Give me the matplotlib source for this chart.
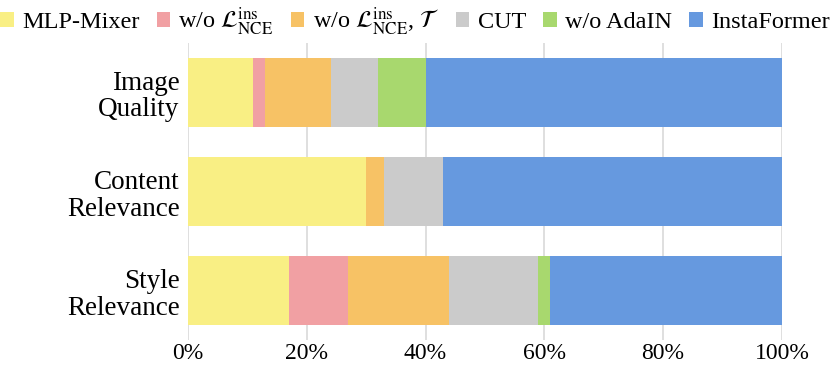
import matplotlib
matplotlib.use("Agg")
import matplotlib.pyplot as plt
import numpy as np

plt.rcParams['font.family'] = ['Liberation Serif', 'DejaVu Serif']
plt.rcParams['mathtext.fontset'] = 'stix'

# data (percent)
categories = ["Image\nQuality", "Content\nRelevance", "Style\nRelevance"]
series_names = [
    "MLP-Mixer",
    r"w/o $\mathcal{L}_{\mathrm{NCE}}^{\mathrm{ins}}$",
    r"w/o $\mathcal{L}_{\mathrm{NCE}}^{\mathrm{ins}}$, $\mathcal{T}$",
    "CUT",
    "w/o AdaIN",
    "InstaFormer",
]
mlp_mixer = [11, 30, 17]
wo_lnce = [2, 0, 10]
wo_lnce_t = [11, 3, 17]
cut = [8, 10, 15]
wo_adain = [8, 0, 2]
instaformer = [60, 57, 39]
series = [mlp_mixer, wo_lnce, wo_lnce_t, cut, wo_adain, instaformer]
colors = ["#F9EF84", "#F1A0A3", "#F7C265", "#CBCBCB", "#A8D86E", "#6699DF"]

fig = plt.figure(figsize=(8.3, 3.65), dpi=100)
ax = fig.add_axes([0.2265, 0.068, 0.7155, 0.814])

y = np.arange(len(categories))
left = np.zeros(len(categories))
for name, vals, c in zip(series_names, series, colors):
    ax.barh(y, vals, left=left, height=0.69, color=c, label=name, zorder=3)
    left += np.array(vals)

ax.set_xlim(0, 100)
ax.set_ylim(2.5, -0.5)
ax.set_yticks(y)
ax.set_yticklabels(categories, fontsize=19.5, linespacing=1.1)
ax.set_xticks(np.arange(0, 101, 20))
ax.set_xticklabels([f"{v}%" for v in range(0, 101, 20)], fontsize=17)
ax.tick_params(length=0)
ax.tick_params(axis="y", pad=6)
ax.tick_params(axis="x", pad=2)
ax.xaxis.grid(True, color="#D9D9D9", linewidth=1.2, zorder=0)
for s in ax.spines.values():
    s.set_visible(False)

fig.legend(loc="upper center", bbox_to_anchor=(0.5, 1.012), ncol=6, frameon=False,
           fontsize=17.5, handlelength=0.55, handleheight=0.55, handletextpad=0.35,
           columnspacing=0.7, borderaxespad=0)

fig.savefig("out.png", dpi=100)
